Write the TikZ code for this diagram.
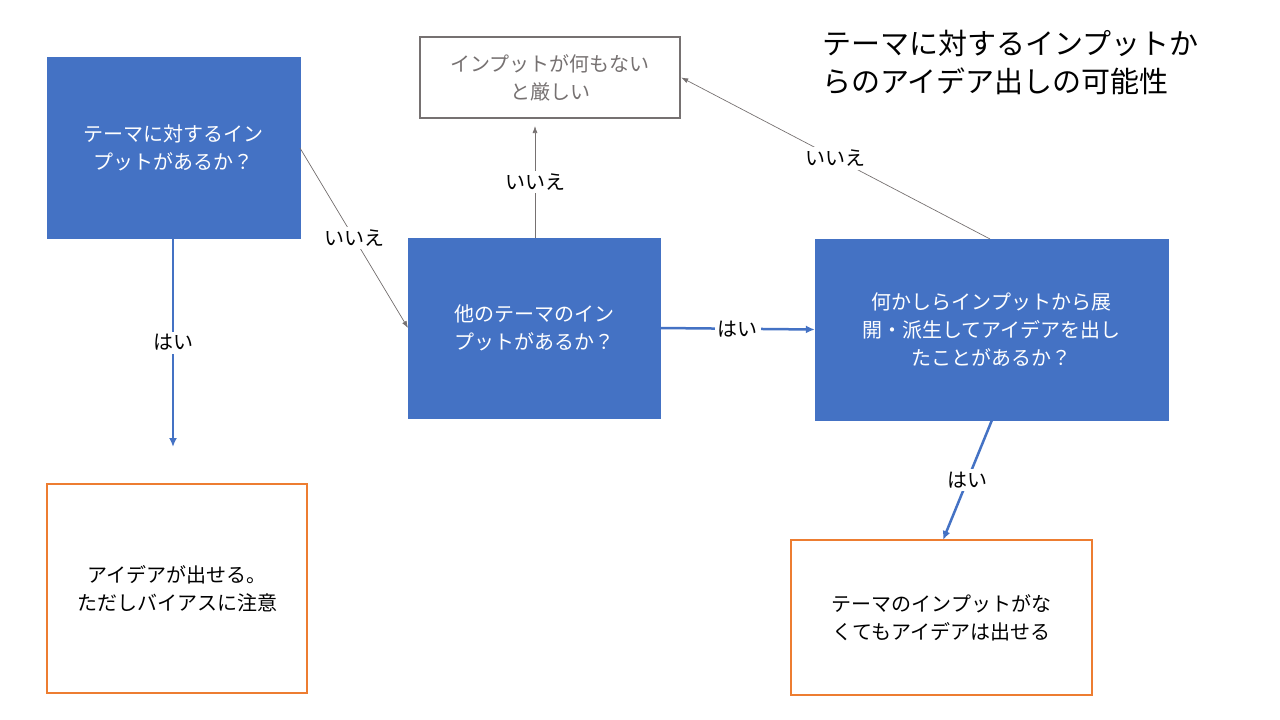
\documentclass[tikz,border=0pt]{standalone}
\usepackage{fontspec}
\setmainfont{Noto Sans CJK JP}
\usetikzlibrary{arrows.meta}
\definecolor{bl}{HTML}{4472C4}
\definecolor{or}{HTML}{ED7D31}
\definecolor{gr}{HTML}{767171}
\begin{document}
\begin{tikzpicture}[x=1pt,y=-1pt,
  bbox/.style={fill=bl,draw=bl,text=white,font=\fontsize{20}{28}\selectfont,align=center,inner sep=0},
  obox/.style={draw=or,line width=2.5pt,font=\fontsize{20}{28}\selectfont,align=center,inner sep=0},
  gbox/.style={draw=gr,line width=2.5pt,text=gr,font=\fontsize{20}{28}\selectfont,align=center,inner sep=0},
  yes/.style={draw=bl,line width=2.5pt,-{Latex[length=9,width=8]}},
  no/.style={draw=gr,line width=0.7pt,-{Latex[length=7,width=5]}},
  lab/.style={fill=white,font=\fontsize{20}{24}\selectfont,inner sep=3pt}]
\useasboundingbox (0,0) rectangle (1280,720);
\node[bbox,minimum width=253,minimum height=181] (A) at (173.5,147.5) {テーマに対するイン\\プットがあるか？};
\node[gbox,minimum width=260,minimum height=81] (B) at (550,77.5) {インプットが何もない\\と厳しい};
\node[bbox,minimum width=252,minimum height=180] (C) at (534,328) {他のテーマのイン\\プットがあるか？};
\node[bbox,minimum width=353,minimum height=181] (D) at (991.5,329.5) {何かしらインプットから展\\開・派生してアイデアを出し\\たことがあるか？};
\node[obox,minimum width=260,minimum height=209] (E) at (177,588.5) {アイデアが出せる。\\ただしバイアスに注意};
\node[obox,minimum width=301,minimum height=155] (F) at (941.5,617.5) {テーマのインプットがな\\くてもアイデアは出せる};
\node[font=\fontsize{29}{38}\selectfont,align=left,inner sep=0,anchor=north west] (T) at (822,30) {テーマに対するインプットか\\らのアイデア出しの可能性};
\coordinate (e1) at (173,447);
\coordinate (b1) at (535,126);
\draw[yes] (A.south -| e1) -- node[lab]{はい} (e1);
\draw[no] (300,148) -- node[lab,pos=0.5]{いいえ} (408,328);
\draw[no] (C.north -| b1) -- node[lab]{いいえ} (b1);
\draw[yes] (C.east) -- node[lab]{はい} (D.west);
\draw[no] (990,239) -- node[lab]{いいえ} (B.east);
\draw[yes] (992,420) -- node[lab]{はい} (943,540);
\end{tikzpicture}
\end{document}
